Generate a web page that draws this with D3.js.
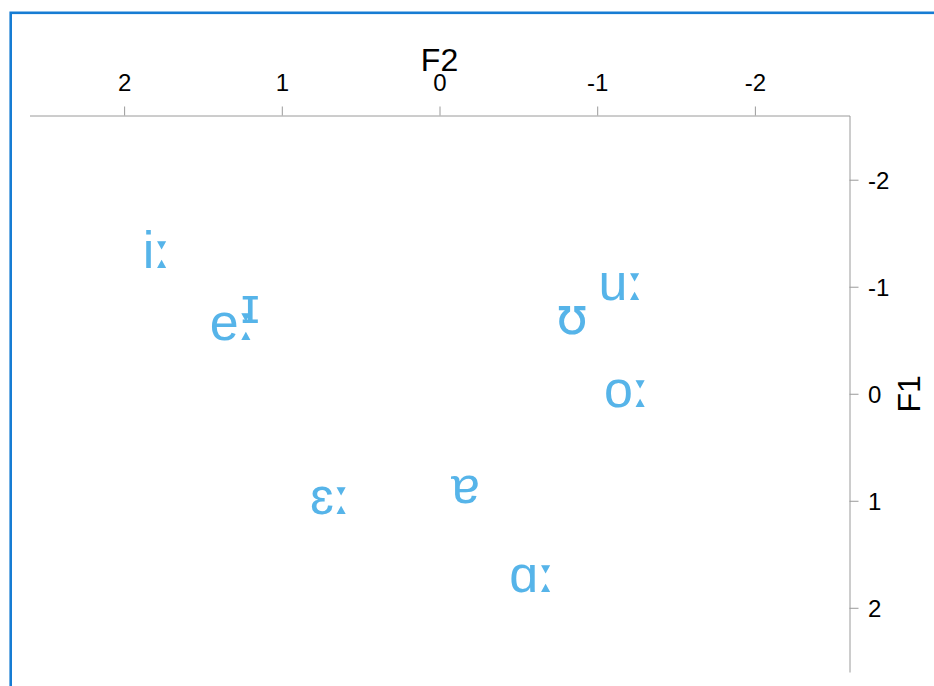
<!DOCTYPE html>
<html>
<head>
<meta charset="utf-8">
<script src="https://cdn.jsdelivr.net/npm/d3@7"></script>
<style>
  html, body { margin: 0; padding: 0; background: #fff; }
  svg { display: block; font-family: "Liberation Sans", Arial, sans-serif; }
</style>
</head>
<body>
<svg id="chart" width="934" height="686"></svg>
<script>
// Vowel labels (IPA) with normalised F2 (x) and F1 (y) values
const vowels = ["iː", "eː", "ɪ", "ʊ", "uː", "oː", "ɛː", "ɐ", "ɑː"];
const f2Values = [1.79, 1.31, 1.20, -0.84, -1.155, -1.19, 0.69, -0.165, -0.59];
const f1Values = [-1.30, -0.63, -0.79, -0.685, -1.00, 0.00, 1.00, 0.89, 1.725];
const tickValues = [-2, -1, 0, 1, 2];
const xTitle = "F2";
const yTitle = "F1";

const svg = d3.select("#chart");

// Outer blue frame (runs off the right and bottom edges)
svg.append("rect")
  .attr("x", 10.7).attr("y", 12.8)
  .attr("width", 1000).attr("height", 1000)
  .attr("fill", "none")
  .attr("stroke", "#167cd3")
  .attr("stroke-width", 2.6);

const x = d3.scaleLinear().domain([2.6, -2.6]).range([29.5, 849.5]);
const y = d3.scaleLinear().domain([-2.6, 2.6]).range([115.5, 672]);

const axisColor = "#9a9a9a";

const gx = svg.append("g")
  .attr("transform", "translate(0,115.5)")
  .call(d3.axisTop(x).tickValues(tickValues).tickFormat(d3.format("d"))
    .tickSizeInner(9).tickSizeOuter(0).tickPadding(15.5));

const gy = svg.append("g")
  .attr("transform", "translate(849.5,0)")
  .call(d3.axisRight(y).tickValues(tickValues).tickFormat(d3.format("d"))
    .tickSizeInner(9).tickSizeOuter(0).tickPadding(9.5));

[gx, gy].forEach(g => {
  g.select(".domain").attr("stroke", axisColor).attr("stroke-width", 1);
  g.selectAll(".tick line").attr("stroke", axisColor).attr("stroke-width", 1);
  g.selectAll(".tick text")
    .attr("fill", "#000")
    .style("font-family", "'Liberation Sans', Arial, sans-serif")
    .style("font-size", "24px");
});
// Use plain hyphen-minus for negative labels
gx.selectAll(".tick text").text(d => String(d));
gy.selectAll(".tick text").text(d => String(d)).attr("dy", "0.36em");

// Axis titles
svg.append("text")
  .attr("x", x(0)).attr("y", 71)
  .attr("text-anchor", "middle")
  .style("font-size", "32px")
  .attr("fill", "#000")
  .text(xTitle);

svg.append("text")
  .attr("transform", `translate(920,${y(0)}) rotate(-90)`)
  .attr("text-anchor", "middle")
  .style("font-size", "32px")
  .attr("fill", "#000")
  .text(yTitle);

// Vowel labels
const altGlyphs = new Set(["ː", "ʊ"]);
const data = vowels.map((v, i) => ({ v, f2: f2Values[i], f1: f1Values[i] }));
const labels = svg.append("g").selectAll("text")
  .data(data)
  .join("text")
  .attr("x", d => x(d.f2))
  .attr("y", d => y(d.f1))
  .attr("dy", "0.26em")
  .attr("text-anchor", "middle")
  .style("font-size", "52px")
  .attr("fill", "#56B4E9");

labels.selectAll("tspan")
  .data(d => Array.from(d.v))
  .join("tspan")
  .style("font-family", c => altGlyphs.has(c)
    ? "'DejaVu Sans', sans-serif"
    : "'Liberation Sans', Arial, sans-serif")
  .text(c => c);
</script>
</body>
</html>
